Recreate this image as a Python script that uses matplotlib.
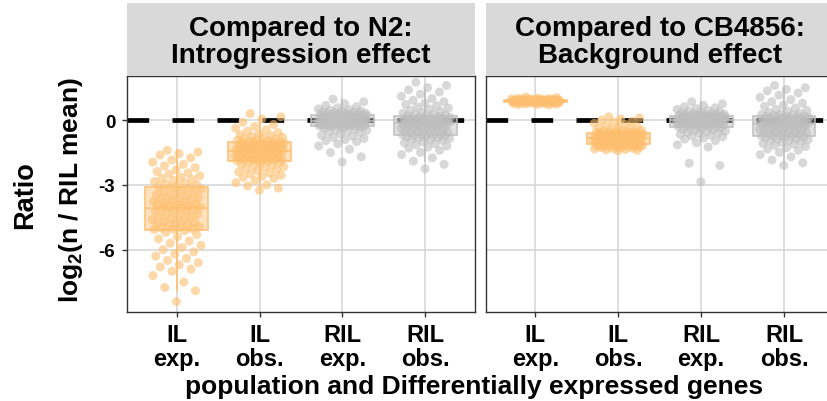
import numpy as np
import matplotlib
matplotlib.use("Agg")
import matplotlib.pyplot as plt
from matplotlib.colors import to_rgba

plt.rcParams['font.family'] = ['Liberation Sans', 'DejaVu Sans']
plt.rcParams['font.weight'] = 'bold'
plt.rcParams['mathtext.fontset'] = 'custom'
plt.rcParams['mathtext.rm'] = 'Liberation Sans:bold'
plt.rcParams['mathtext.bf'] = 'Liberation Sans:bold'
plt.rcParams['mathtext.default'] = 'bf'
plt.rcParams['lines.scale_dashes'] = False

# ---------------- data ----------------
panels = ["Compared to N2:\nIntrogression effect", "Compared to CB4856:\nBackground effect"]
categories = ["IL\nexp.", "IL\nobs.", "RIL\nexp.", "RIL\nobs."]
yticks = [0, -3, -6]

n2_il_exp = [-1.40, -1.48, -1.55, -1.62, -1.75, -1.85, -1.95, -2.05, -2.12, -2.2, -2.3, -2.38, -2.45, -2.5,
             -2.58, -2.65, -2.7, -2.75, -2.8, -2.85, -2.9, -2.95, -3.0, -3.04, -3.08,
             -3.12, -3.15, -3.2, -3.25, -3.3, -3.35, -3.4, -3.45, -3.5, -3.55, -3.6, -3.63, -3.67, -3.7,
             -3.74, -3.78, -3.82, -3.85, -3.88, -3.91, -3.94, -3.97, -4.0, -4.03, -4.05,
             -4.08, -4.12, -4.16, -4.2, -4.25, -4.3, -4.35, -4.4, -4.45, -4.5, -4.55, -4.6, -4.65, -4.7,
             -4.74, -4.78, -4.82, -4.86, -4.9, -4.94, -4.97, -5.0, -5.03, -5.05, -5.07,
             -5.12, -5.2, -5.3, -5.4, -5.5, -5.6, -5.7, -5.8, -5.9, -6.0, -6.1, -6.2, -6.3, -6.4, -6.5,
             -6.6, -6.7, -6.8, -6.9, -7.0, -7.2, -7.5, -7.75, -7.9, -8.4]
n2_il_obs = [0.3, 0.15, 0.05, -0.1, -0.2, -0.3, -0.38, -0.45, -0.52, -0.58, -0.63, -0.68, -0.72, -0.76,
             -0.8, -0.83, -0.86, -0.89, -0.92, -0.94, -0.96, -0.98, -0.99, -1.0, -1.01,
             -1.03, -1.05, -1.07, -1.09, -1.11, -1.13, -1.15, -1.17, -1.19, -1.21, -1.23, -1.25, -1.27,
             -1.29, -1.31, -1.33, -1.34, -1.35, -1.36, -1.37, -1.38, -1.39, -1.4, -1.41, -1.42,
             -1.44, -1.46, -1.48, -1.5, -1.52, -1.54, -1.56, -1.58, -1.6, -1.62, -1.64, -1.66, -1.68,
             -1.7, -1.72, -1.74, -1.76, -1.78, -1.8, -1.82, -1.84, -1.85, -1.86, -1.87, -1.88,
             -1.9, -1.93, -1.96, -2.0, -2.04, -2.08, -2.12, -2.16, -2.2, -2.25, -2.3, -2.35, -2.4, -2.45,
             -2.5, -2.55, -2.6, -2.65, -2.7, -2.8, -2.9, -3.0, -3.05, -3.15, -3.25]
n2_ril_exp = [0.97, 0.85, 0.75, 0.68, 0.62, 0.57, 0.52, 0.48, 0.45, 0.42, 0.4, 0.38, 0.36, 0.34, 0.32,
              0.31, 0.3, 0.29, 0.28, 0.27, 0.26, 0.25, 0.245, 0.24, 0.235,
              0.22, 0.21, 0.2, 0.19, 0.18, 0.17, 0.16, 0.15, 0.14, 0.13, 0.12, 0.11, 0.1, 0.08, 0.06,
              0.05, 0.04, 0.03, 0.02, 0.01, 0.0, -0.01, -0.02, -0.03, -0.04,
              -0.06, -0.07, -0.08, -0.09, -0.1, -0.11, -0.12, -0.13, -0.14, -0.15, -0.16, -0.17, -0.18,
              -0.19, -0.2, -0.21, -0.22, -0.23, -0.24, -0.25, -0.255, -0.26, -0.265, -0.27, -0.275,
              -0.29, -0.31, -0.33, -0.36, -0.39, -0.42, -0.45, -0.48, -0.52, -0.56, -0.6, -0.65, -0.7,
              -0.75, -0.8, -0.85, -0.9, -0.95, -1.0, -1.1, -1.2, -1.35, -1.5, -1.7, -1.94]
n2_ril_obs = [1.75, 1.6, 1.5, 1.4, 1.3, 1.2, 1.1, 1.0, 0.92, 0.85, 0.78, 0.72, 0.66, 0.6, 0.55, 0.5,
              0.45, 0.4, 0.36, 0.32, 0.28, 0.25, 0.22, 0.2, 0.19,
              0.17, 0.15, 0.13, 0.11, 0.09, 0.07, 0.05, 0.03, 0.01, -0.01, -0.02, -0.03, -0.04, -0.05,
              -0.06, -0.07, -0.08, -0.09, -0.1, -0.11, -0.115, -0.12, -0.125, -0.13, -0.135,
              -0.15, -0.17, -0.19, -0.21, -0.23, -0.25, -0.27, -0.29, -0.31, -0.33, -0.35, -0.37, -0.39,
              -0.41, -0.43, -0.45, -0.47, -0.5, -0.53, -0.56, -0.59, -0.62, -0.65, -0.67, -0.68,
              -0.7, -0.72, -0.74, -0.76, -0.78, -0.8, -0.83, -0.86, -0.89, -0.92, -0.95, -1.0, -1.05,
              -1.1, -1.15, -1.2, -1.25, -1.3, -1.4, -1.5, -1.6, -1.75, -1.9, -2.05, -2.26]

cb_il_exp = [1.06, 1.04, 1.02, 1.0, 0.99, 0.98, 0.975, 0.97, 0.965, 0.96, 0.955, 0.95, 0.945, 0.94, 0.935,
             0.93, 0.925, 0.92, 0.915, 0.91, 0.905, 0.9, 0.9, 0.895, 0.89, 0.885, 0.88, 0.88, 0.875, 0.87,
             0.87, 0.865, 0.86, 0.86, 0.855, 0.85, 0.85, 0.845, 0.84, 0.84, 0.835, 0.83, 0.83, 0.825, 0.82,
             0.815, 0.81, 0.805, 0.8, 0.795, 0.79, 0.785, 0.78, 0.77, 0.76, 0.75, 0.74, 0.73, 0.72, 0.7]
cb_il_obs = [0.15, 0.1, 0.05, 0.0, -0.05, -0.1, -0.15, -0.2, -0.25, -0.3, -0.34, -0.38, -0.41, -0.44,
             -0.47, -0.49, -0.51, -0.53, -0.55, -0.56, -0.57, -0.58, -0.585, -0.59, -0.595,
             -0.61, -0.62, -0.63, -0.64, -0.65, -0.66, -0.67, -0.68, -0.69, -0.7, -0.71, -0.72, -0.73,
             -0.74, -0.75, -0.76, -0.77, -0.78, -0.79, -0.8, -0.805, -0.81, -0.815, -0.82, -0.825,
             -0.84, -0.85, -0.86, -0.87, -0.88, -0.89, -0.9, -0.91, -0.92, -0.93, -0.94, -0.95, -0.96,
             -0.97, -0.98, -0.99, -1.0, -1.01, -1.02, -1.03, -1.04, -1.05, -1.06, -1.08, -1.1,
             -1.11, -1.12, -1.13, -1.14, -1.15, -1.16, -1.17, -1.18, -1.19, -1.2, -1.21, -1.22, -1.23,
             -1.24, -1.25, -1.26, -1.27, -1.28, -1.3, -1.32, -1.34, -1.36, -1.38, -1.4, -1.43]
cb_ril_exp = [0.85, 0.75, 0.68, 0.62, 0.57, 0.53, 0.49, 0.45, 0.42, 0.39, 0.36, 0.34, 0.32, 0.3, 0.28,
              0.26, 0.25, 0.24, 0.23, 0.22, 0.21, 0.2, 0.195, 0.19, 0.185,
              0.17, 0.16, 0.15, 0.14, 0.13, 0.12, 0.11, 0.1, 0.09, 0.08, 0.07, 0.065, 0.06, 0.055, 0.05,
              0.045, 0.04, 0.035, 0.03, 0.025, 0.02, 0.015, 0.01, 0.005, 0.002,
              -0.01, -0.02, -0.03, -0.04, -0.05, -0.06, -0.07, -0.08, -0.09, -0.1, -0.11, -0.12, -0.13,
              -0.14, -0.15, -0.16, -0.18, -0.2, -0.22, -0.24, -0.26, -0.28, -0.29, -0.3, -0.31,
              -0.33, -0.35, -0.37, -0.39, -0.42, -0.45, -0.48, -0.51, -0.54, -0.57, -0.6, -0.63, -0.66,
              -0.7, -0.74, -0.78, -0.83, -0.88, -0.95, -1.05, -1.15, -1.25, -2.0, -2.1, -2.86]
cb_ril_obs = [1.6, 1.5, 1.42, 1.35, 1.25, 1.15, 1.05, 0.95, 0.85, 0.78, 0.7, 0.63, 0.56, 0.5, 0.45, 0.4,
              0.35, 0.31, 0.28, 0.25, 0.23, 0.21, 0.2, 0.19, 0.185,
              0.17, 0.15, 0.13, 0.11, 0.09, 0.07, 0.05, 0.03, 0.01, -0.01, -0.03, -0.05, -0.07, -0.08,
              -0.09, -0.1, -0.11, -0.12, -0.13, -0.14, -0.15, -0.16, -0.165, -0.17, -0.175,
              -0.19, -0.21, -0.23, -0.25, -0.27, -0.29, -0.31, -0.33, -0.35, -0.37, -0.39, -0.41, -0.43,
              -0.45, -0.47, -0.49, -0.51, -0.53, -0.56, -0.59, -0.62, -0.65, -0.68, -0.71, -0.73,
              -0.75, -0.77, -0.79, -0.81, -0.83, -0.85, -0.87, -0.9, -0.93, -0.96, -1.0, -1.04, -1.08,
              -1.12, -1.17, -1.22, -1.28, -1.34, -1.4, -1.5, -1.6, -1.7, -1.85, -1.98, -2.1]

panel_data = [[n2_il_exp, n2_il_obs, n2_ril_exp, n2_ril_obs],
              [cb_il_exp, cb_il_obs, cb_ril_exp, cb_ril_obs]]
group_colors = ['#FDBF6F', '#FDBF6F', '#BEBEBE', '#BEBEBE']

# ---------------- layout ----------------
W, H = 828, 402
fig = plt.figure(figsize=(W / 100, H / 100), dpi=100)

def fx(px):
    return px / W

def fy(py):
    return 1 - py / H

pan_top, pan_bot = 77, 313.3
strip_top = 4
pan_w = 348
lefts = [127, 485.7]

def jitter(n, w=0.3):
    k = np.arange(n)
    return ((k * 0.6180339887 + 0.31) % 1.0 - 0.5) * 2 * w

axes = []
for p in range(2):
    ax = fig.add_axes([fx(lefts[p]), fy(pan_bot), pan_w / W, (pan_bot - pan_top) / H])
    axes.append(ax)
    ax.set_xlim(0.4, 4.6)
    ax.set_ylim(-8.9, 2.04)
    ax.set_axisbelow(True)
    ax.grid(True, color='#D4D4D4', lw=1.1)
    for s in ax.spines.values():
        s.set_color('#333333')
        s.set_linewidth(1.0)
    ax.axhline(0, color='black', lw=3.4, dashes=(15.6, 16.8), solid_capstyle='butt',
               dash_capstyle='butt', zorder=2)
    for g, vals in enumerate(panel_data[p]):
        v = np.asarray(vals)
        ax.scatter(g + 1 + jitter(len(v)), v, s=42, color=group_colors[g], alpha=0.6,
                   edgecolors='none', zorder=3)
    bp = ax.boxplot(panel_data[p], positions=[1, 2, 3, 4], widths=0.76, patch_artist=True,
                    showfliers=False, showcaps=False, whis=1.5, zorder=4)
    for g in range(4):
        c = group_colors[g]
        bp['boxes'][g].set_facecolor(to_rgba(c, 0.45))
        bp['boxes'][g].set_edgecolor(c)
        bp['boxes'][g].set_linewidth(1.1)
        bp['medians'][g].set_color(c)
        bp['medians'][g].set_linewidth(1.1)
        for wk in bp['whiskers'][2 * g:2 * g + 2]:
            wk.set_color(c)
            wk.set_linewidth(1.1)
    ax.set_xticks([1, 2, 3, 4])
    ax.set_xticklabels(categories, fontsize=17, fontweight='bold', linespacing=1.05)
    ax.set_yticks(yticks)
    ax.tick_params(axis='x', length=3.5, width=1.0, color='#333333', pad=4.5)
    ax.tick_params(axis='y', length=3.5, width=1.0, color='#333333', pad=5)
    if p == 0:
        ax.set_yticklabels([str(t) for t in yticks], fontsize=13.5, fontweight='bold')
    else:
        ax.tick_params(axis='y', length=0, labelleft=False)

    sax = fig.add_axes([fx(lefts[p]), fy(pan_top), pan_w / W, (pan_top - strip_top) / H])
    sax.set_facecolor('#D9D9D9')
    sax.set_xticks([])
    sax.set_yticks([])
    for s in sax.spines.values():
        s.set_visible(False)
    sax.text(0.5, 0.47, panels[p], ha='center', va='center', fontsize=20, fontweight='bold',
             linespacing=1.08, transform=sax.transAxes)

fig.text(fx(474), fy(387), "population and Differentially expressed genes", ha='center', va='center',
         fontsize=19, fontweight='bold')
fig.text(fx(25), fy(195), "Ratio", rotation=90, ha='center', va='center', fontsize=19.5,
         fontweight='bold')
fig.text(fx(71), fy(190), r"log$_2$(n / RIL mean)", rotation=90, ha='center', va='center',
         fontsize=19, fontweight='bold')

fig.savefig("out.png", dpi=100)
